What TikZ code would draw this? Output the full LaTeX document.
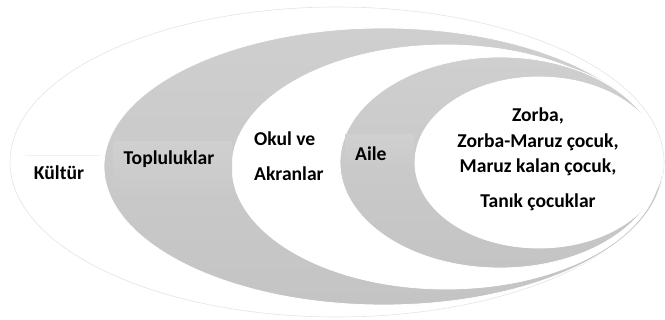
\documentclass[tikz,border=0pt]{standalone}
\usepackage{fontspec}
\setmainfont{Carlito}
\usetikzlibrary{shapes.geometric}
\definecolor{ringgray}{HTML}{CACACA}
\definecolor{ringtop}{HTML}{CFCFCF}
\definecolor{ringbot}{HTML}{C4C4C4}
\definecolor{boxtop}{HTML}{D0D0D0}
\definecolor{boxbot}{HTML}{C8C8C8}
\definecolor{edgegray}{HTML}{E4E4E4}
\tikzset{
  ring/.style={ellipse, inner sep=0pt, draw=white, line width=0.8pt},
  grayring/.style={ring, top color=ringtop, bottom color=ringbot},
  whitering/.style={ring, fill=white},
  labelbox/.style={inner sep=0pt, top color=boxtop, bottom color=boxbot},
  lbl/.style={font=\bfseries\fontsize{19.6}{22}\selectfont, text=black, inner sep=0pt},
}
\begin{document}
\begin{tikzpicture}[x=1pt,y=1pt]
\useasboundingbox (0,0) rectangle (665,320);
% outermost ring: culture
\node[ring, draw=edgegray, line width=0.6pt, fill=white,
      minimum width=654pt, minimum height=310pt] (kultur) at (337,158) {};
% communities
\node[grayring, minimum width=559pt, minimum height=277pt] (topluluk) at (383.5,153.5) {};
% school and peers
\node[whitering, minimum width=428pt, minimum height=244pt] (okul) at (446,153) {};
% family
\node[grayring, minimum width=320pt, minimum height=211pt] (aile) at (500,157.5) {};
% innermost circle
\node[whitering, minimum width=248pt, minimum height=171pt] (cocuk) at (539,157.5) {};

% text boxes
\fill[labelbox] (113,122) rectangle (232,178);
\fill[labelbox] (345,145) rectangle (414,185);
\draw[edgegray!50, line width=0.3pt] (25,165) -- (100,165);

% labels
\node[lbl] (t1) at (59,147) {Kültür};
\node[lbl] (t2) at (169,161) {Topluluklar};
\node[lbl, anchor=west] (t3) at (254,181) {Okul ve};
\node[lbl, anchor=west] (t4) at (254,146) {Akranlar};
\node[lbl, anchor=west] (t5) at (355,166) {Aile};
\node[lbl] (t6) at (538,204) {Zorba,};
\node[lbl] (t7) at (538,178) {Zorba-Maruz çocuk,};
\node[lbl] (t8) at (538,153) {Maruz kalan çocuk,};
\node[lbl] (t9) at (538,118) {Tanık çocuklar};
\end{tikzpicture}
\end{document}
